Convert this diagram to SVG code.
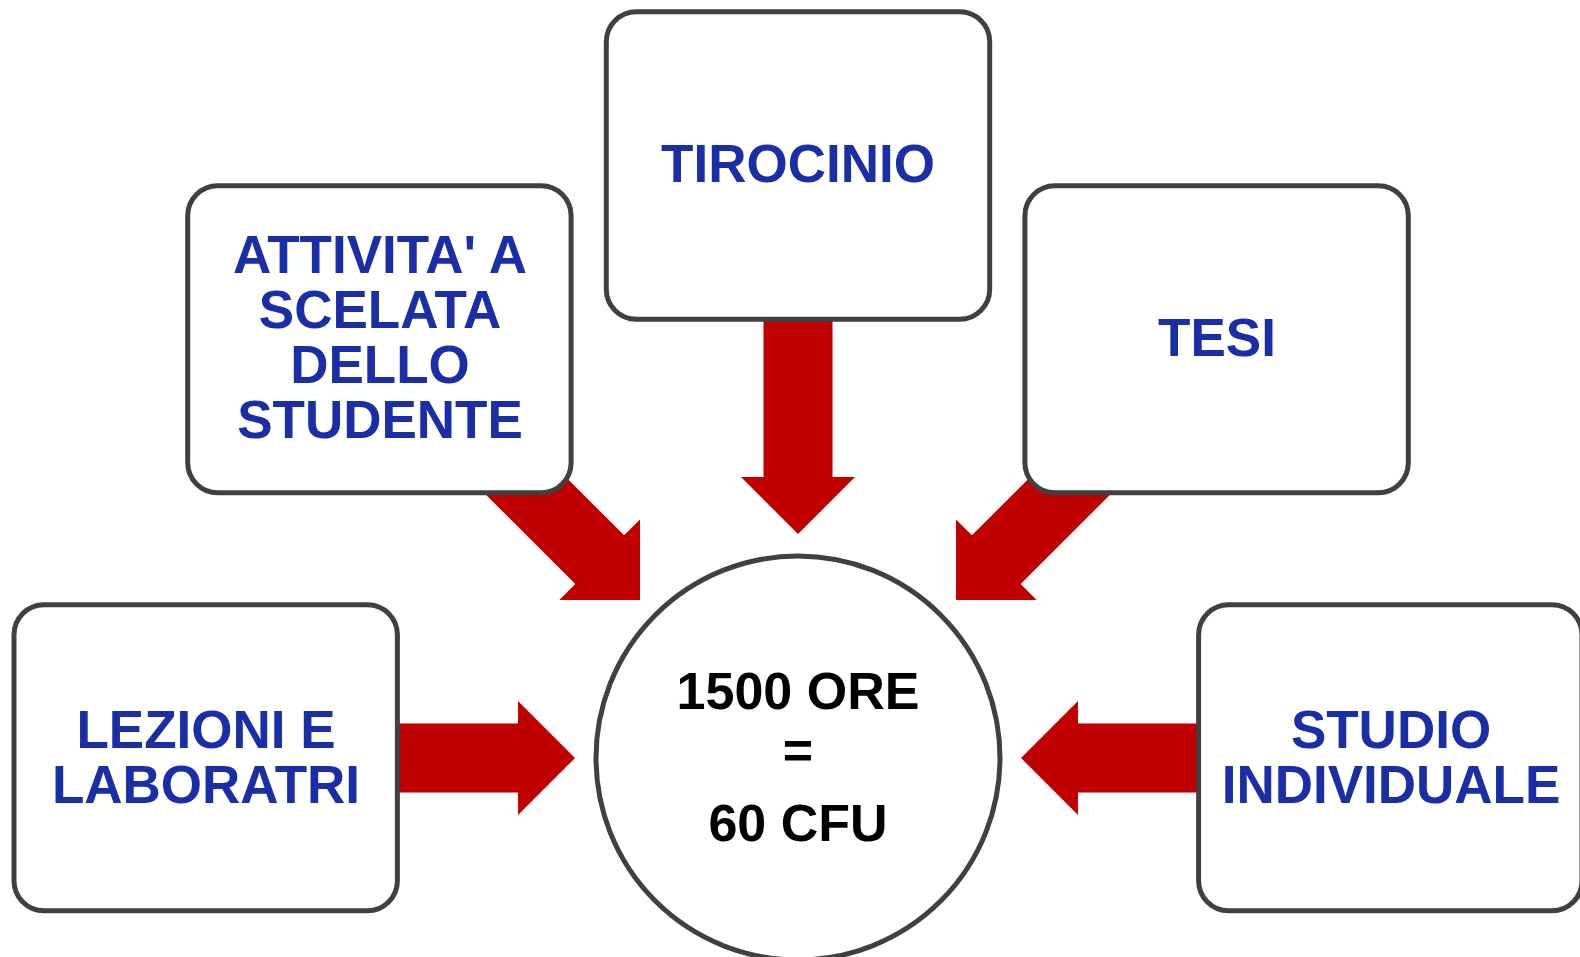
<svg xmlns="http://www.w3.org/2000/svg" width="1580" height="957" viewBox="0 0 1580 957">
<defs>
<style>
.box{fill:#ffffff;stroke:#404040;stroke-width:5}
.lbl{font-family:"Liberation Sans",Arial,sans-serif;font-weight:bold;font-size:53px;fill:#1A2EA8;text-anchor:middle}
.ctr{font-family:"Liberation Sans",Arial,sans-serif;font-weight:bold;font-size:52px;fill:#000000;text-anchor:middle}
.arr{fill:#C00000}
</style>
<path id="arrowLong" d="M0,0 L-57,-57 L-57,-34.5 L-230,-34.5 L-230,34.5 L-57,34.5 L-57,57 Z"/>
<path id="arrowMid" d="M0,0 L-57,-57 L-57,-34.5 L-200,-34.5 L-200,34.5 L-57,34.5 L-57,57 Z"/>
<path id="arrowShort" d="M0,0 L-57,-57 L-57,-34.5 L-190,-34.5 L-190,34.5 L-57,34.5 L-57,57 Z"/>
</defs>
<rect width="1580" height="957" fill="#ffffff"/>
<g id="connectors">
<use href="#arrowLong" class="arr" transform="translate(798,534) rotate(90)"/>
<use href="#arrowShort" class="arr" transform="translate(575,758)"/>
<use href="#arrowShort" class="arr" transform="translate(1021,758) rotate(180)"/>
<use href="#arrowMid" class="arr" transform="translate(640,600) rotate(45)"/>
<use href="#arrowMid" class="arr" transform="translate(956,600) rotate(135)"/>
</g>
<g id="node-tirocinio">
<rect class="box" x="606.3" y="11.8" width="383.4" height="307.4" rx="30"/>
<text class="lbl" x="798" y="181.7">TIROCINIO</text>
</g>
<g id="node-attivita">
<rect class="box" x="187.7" y="185.8" width="383.4" height="307" rx="30"/>
<text class="lbl" x="380" y="272.5">ATTIVITA' A</text>
<text class="lbl" x="380" y="328">SCELATA</text>
<text class="lbl" x="380" y="383">DELLO</text>
<text class="lbl" x="380" y="438">STUDENTE</text>
</g>
<g id="node-tesi">
<rect class="box" x="1024.9" y="185.8" width="383.4" height="307" rx="30"/>
<text class="lbl" x="1217" y="355.5">TESI</text>
</g>
<g id="node-lezioni">
<rect class="box" x="14" y="604.8" width="383.4" height="306" rx="30"/>
<text class="lbl" x="206" y="747.5">LEZIONI E</text>
<text class="lbl" x="206" y="802.5">LABORATRI</text>
</g>
<g id="node-studio">
<rect class="box" x="1198.6" y="604.8" width="383.4" height="306" rx="30"/>
<text class="lbl" x="1391" y="747.5">STUDIO</text>
<text class="lbl" x="1391" y="802.5">INDIVIDUALE</text>
</g>
<g id="node-center">
<circle class="box" cx="798" cy="758" r="202"/>
<text class="ctr" x="798" y="708.5">1500 ORE</text>
<text class="ctr" x="798" y="768">=</text>
<text class="ctr" x="798" y="841">60 CFU</text>
</g>
</svg>
